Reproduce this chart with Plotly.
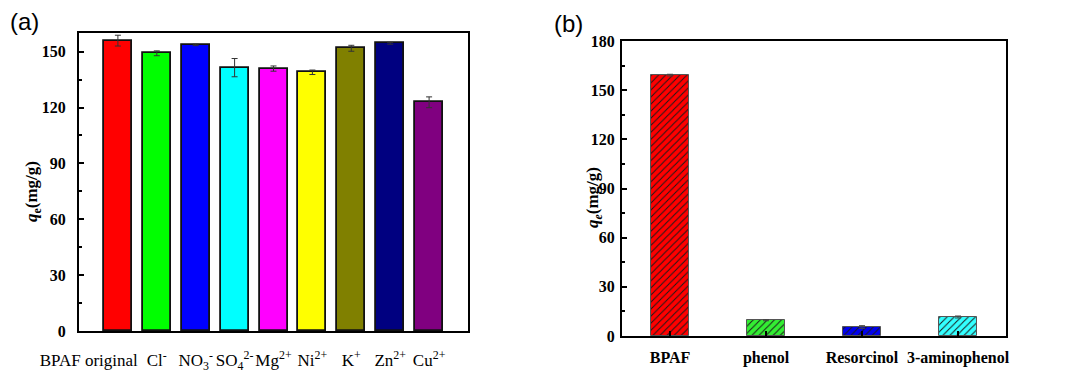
import plotly.graph_objects as go

# ---- Data panel (a) ----
ions_labels = ["BPAF original", "Cl<sup>-</sup>", "NO<sub>3</sub><sup>-</sup>",
               "SO<sub>4</sub><sup>2-</sup>", "Mg<sup>2+</sup>", "Ni<sup>2+</sup>",
               "K<sup>+</sup>", "Zn<sup>2+</sup>", "Cu<sup>2+</sup>"]
ions_qe = [155.9, 149.1, 153.6, 141.4, 140.9, 138.9, 151.8, 154.5, 122.8]
ions_err = [2.9, 1.3, 0.4, 4.9, 1.4, 1.2, 1.6, 0.5, 2.9]
ions_colors = ["#FF0000", "#00FF00", "#0000FF", "#00FFFF", "#FF00FF",
               "#FFFF00", "#808000", "#000080", "#800080"]

# ---- Data panel (b) ----
phen_labels = ["BPAF", "phenol", "Resorcinol", "3-aminophenol"]
phen_qe = [159.2, 9.6, 5.5, 11.6]
phen_err = [0.5, 0.3, 0.8, 0.6]
phen_colors = ["#FF0000", "#33EE33", "#0000EE", "#33FFFF"]

W, H = 1071, 391
def px(x): return x / W
def py(y): return 1 - y / H

fig = go.Figure()

xa = list(range(len(ions_qe)))
fig.add_trace(go.Bar(
    x=xa, y=ions_qe, width=0.72,
    marker=dict(color=ions_colors, line=dict(color="#111111", width=1.8)),
    error_y=dict(type="data", array=ions_err, color="#333333", thickness=1, width=3),
    xaxis="x", yaxis="y", showlegend=False))

xb = list(range(len(phen_qe)))
for i in xb:
    fig.add_trace(go.Bar(
        x=[xb[i]], y=[phen_qe[i]], width=0.4,
        marker=dict(color=phen_colors[i], line=dict(color="#555555", width=1),
                    pattern=dict(shape="/", fgcolor="#1a1a1a", bgcolor=phen_colors[i],
                                 fgopacity=1, size=5, solidity=0.2, fillmode="replace")),
        error_y=dict(type="data", array=[phen_err[i]], color="#444444", thickness=1, width=3),
        xaxis="x2", yaxis="y2", showlegend=False))

serif = "Liberation Serif, Times New Roman, serif"
tickfont_bold = dict(family=serif, size=16, color="black", weight="bold")

# tick positions for (a): first long label shifted left as in original
a_tickvals = [i - 0.75 if i == 0 else i for i in xa]

axis_common = dict(showline=True, linecolor="black", linewidth=2, mirror=True,
                   showgrid=False, zeroline=False, automargin=False)

fig.update_layout(
    width=W, height=H,
    margin=dict(l=0, r=0, t=0, b=0),
    paper_bgcolor="white", plot_bgcolor="white",
    bargap=0, barmode="overlay",
    xaxis=dict(domain=[px(79), px(468)], anchor="y", range=[-1, 9],
               tickvals=a_tickvals, ticktext=ions_labels, ticks="", tickangle=0,
               tickfont=dict(family=serif, size=17, color="black"),
               ticklabelstandoff=13, **axis_common),
    yaxis=dict(domain=[py(331), py(33)], anchor="x", range=[0, 160],
               tickvals=[0, 30, 60, 90, 120, 150], ticks="inside", ticklen=5,
               tickwidth=2, tickcolor="black", tickfont=tickfont_bold,
               ticklabelstandoff=8,
               minor=dict(dtick=15, tick0=0, ticks="inside", ticklen=3,
                          tickwidth=1.5, tickcolor="black"),
               **axis_common),
    xaxis2=dict(domain=[px(622), px(1006)], anchor="y2", range=[-0.5, 3.5],
                tickvals=xb, ticktext=phen_labels, ticks="inside", ticklen=5,
                tickwidth=2, tickcolor="black", tickfont=tickfont_bold,
                tickangle=0, ticklabelstandoff=6, **axis_common),
    yaxis2=dict(domain=[py(336), py(41)], anchor="x2", range=[0, 180],
                tickvals=[0, 30, 60, 90, 120, 150, 180], ticks="inside", ticklen=5,
                tickwidth=2, tickcolor="black", tickfont=tickfont_bold,
                ticklabelstandoff=2,
                minor=dict(dtick=15, tick0=0, ticks="inside", ticklen=3,
                           tickwidth=1.5, tickcolor="black"),
                **axis_common),
    annotations=[
        dict(text="(a)", x=px(8), y=py(22), xref="paper", yref="paper",
             xanchor="left", yanchor="middle", showarrow=False,
             font=dict(family="Liberation Sans, Arial, sans-serif", size=24, color="black")),
        dict(text="(b)", x=px(552), y=py(24), xref="paper", yref="paper",
             xanchor="left", yanchor="middle", showarrow=False,
             font=dict(family="Liberation Sans, Arial, sans-serif", size=24, color="black")),
        dict(text="<b><i>q</i><sub>e</sub>(mg/g)</b>", x=px(33), y=py(192),
             xref="paper", yref="paper", textangle=-90, showarrow=False,
             xanchor="center", yanchor="middle",
             font=dict(family=serif, size=17, color="black")),
        dict(text="<b><i>q<sub>e</sub></i>(mg/g)</b>", x=px(594), y=py(198),
             xref="paper", yref="paper", textangle=-90, showarrow=False,
             xanchor="center", yanchor="middle",
             font=dict(family=serif, size=17, color="black")),
    ],
)

fig.write_html("out.html", config={"displayModeBar": False},
               post_script="document.body.style.margin='0';document.body.style.padding='0';")
